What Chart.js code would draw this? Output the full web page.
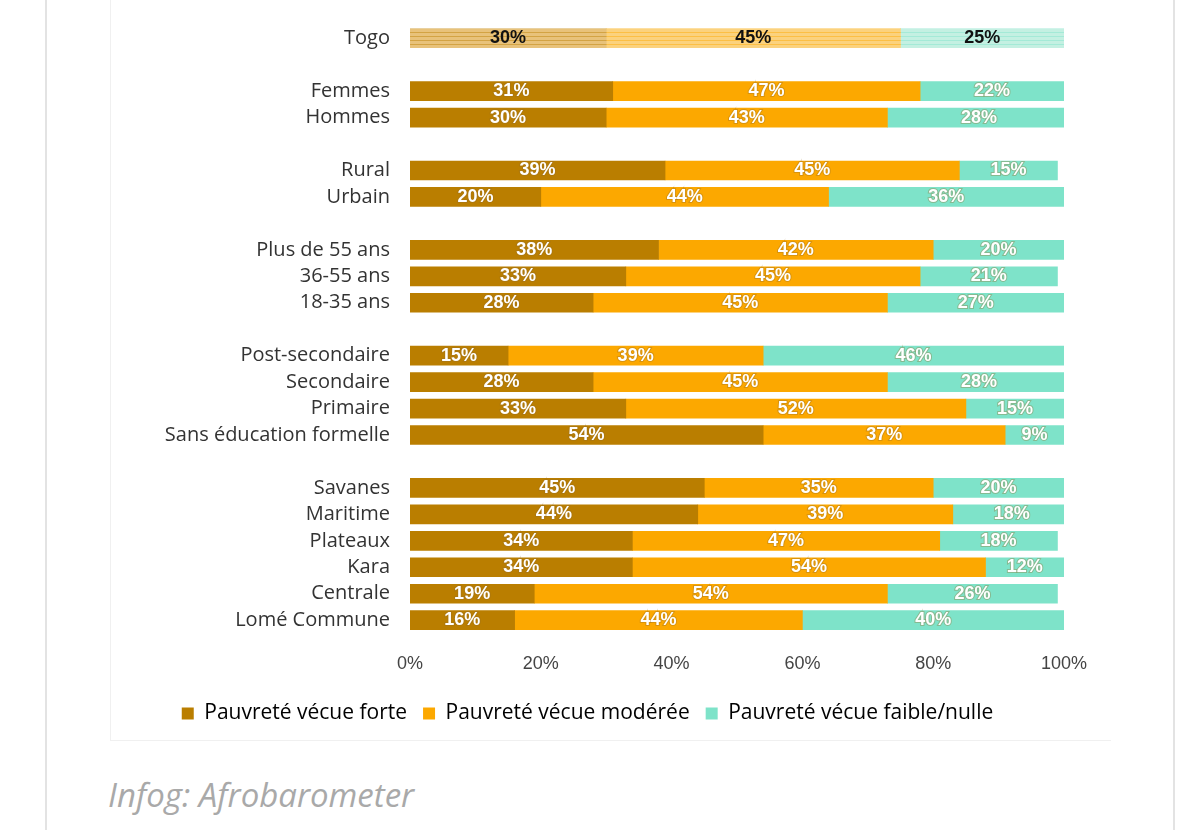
<!DOCTYPE html>
<html><head><meta charset="utf-8">
<script src="https://cdn.jsdelivr.net/npm/chart.js@4"></script>
<style>
body{margin:0;background:#fff;width:1179px;height:830px;position:relative;overflow:hidden;font-family:"Liberation Sans",sans-serif}
#frame{position:absolute;left:45px;top:-2px;width:1126px;height:840px;border-left:2px solid #e3e3e3;border-right:2px solid #e3e3e3}
#panel{position:absolute;left:110px;top:0;width:1000px;height:740px;border-left:1px solid #f0f0f0;border-bottom:1px solid #f0f0f0}
#cap{position:absolute;left:108px;top:772px;font-family:"Open Sans";font-style:italic;font-size:33px;color:#a9a9a9}
</style></head><body>
<div id="frame"></div>
<div id="panel"><canvas id="c" width="1000" height="740"></canvas></div>
<div id="cap">Infog: Afrobarometer</div>
<script>
const categories=["Togo","","Femmes","Hommes","","Rural","Urbain","","Plus de 55 ans","36-55 ans","18-35 ans","","Post-secondaire","Secondaire","Primaire","Sans éducation formelle","","Savanes","Maritime","Plateaux","Kara","Centrale","Lomé Commune"];
const forte=[30,null,31,30,null,39,20,null,38,33,28,null,15,28,33,54,null,45,44,34,34,19,16];
const moderee=[45,null,47,43,null,45,44,null,42,45,45,null,39,45,52,37,null,35,39,47,54,54,44];
const faible=[25,null,22,28,null,15,36,null,20,21,27,null,46,28,15,9,null,20,18,18,12,26,40];
const xTicks=["0%","20%","40%","60%","80%","100%"];
const seriesNames=["Pauvreté vécue forte","Pauvreté vécue modérée","Pauvreté vécue faible/nulle"];
const cols=["#BA7E00","#FCA800","#7EE3C9"];
const light=["#E8C27A","#FBD27E","#C4F0E2"];
function stripe(base,lt){const p=document.createElement('canvas');p.width=4;p.height=4;const g=p.getContext('2d');g.fillStyle=lt;g.fillRect(0,0,4,4);g.fillStyle=base;g.globalAlpha=0.45;g.fillRect(0,0,4,1);return g.createPattern(p,'repeat');}
const ctx=document.getElementById('c').getContext('2d');
function bg(i){return (c)=>c.dataIndex===0?stripe(cols[i],light[i]):cols[i];}
const labelPlugin={id:'lbl',afterDatasetsDraw(ch){const g=ch.ctx;g.save();g.font='bold 18px "Liberation Sans Narrow","Liberation Sans"';g.textAlign='center';g.textBaseline='middle';
ch.data.datasets.forEach((ds,di)=>{ch.getDatasetMeta(di).data.forEach((el,i)=>{const v=ds.data[i];if(v==null)return;const x=(el.x+el.base)/2,y=el.y;const t=v+'%';
if(i===0){g.fillStyle='#111';g.fillText(t,x,y);}else{g.lineWidth=2;g.strokeStyle='rgba(150,110,40,0.35)';g.strokeText(t,x,y);g.fillStyle='#fff';g.fillText(t,x,y);}});});g.restore();}};
new Chart(ctx,{type:'bar',data:{labels:categories,datasets:[0,1,2].map(i=>({label:seriesNames[i],data:[forte,moderee,faible][i],backgroundColor:bg(i),barThickness:19}))},
options:{indexAxis:'y',responsive:false,animation:false,layout:{padding:{top:25,right:47,bottom:6,left:0}},
scales:{x:{stacked:true,min:0,max:100,grid:{display:false},border:{display:false},ticks:{stepSize:20,color:'#444',font:{size:18,family:'"Liberation Sans Narrow","Liberation Sans"'},padding:12,callback:(v,i)=>xTicks[i]}},
y:{stacked:true,grid:{display:false},border:{display:false},afterFit(s){s.width=299;},ticks:{autoSkip:false,color:'#333',font:{size:20,family:'"Open Sans"'},padding:12}}},
plugins:{tooltip:{enabled:false},legend:{position:'bottom',labels:{boxWidth:12,boxHeight:12,padding:16,color:'#444',font:{size:21,family:'"Open Sans"'},generateLabels:(ch)=>seriesNames.map((n,i)=>({text:n,fillStyle:cols[i],strokeStyle:cols[i],lineWidth:0,datasetIndex:i}))}}}},plugins:[labelPlugin]});
</script></body></html>
